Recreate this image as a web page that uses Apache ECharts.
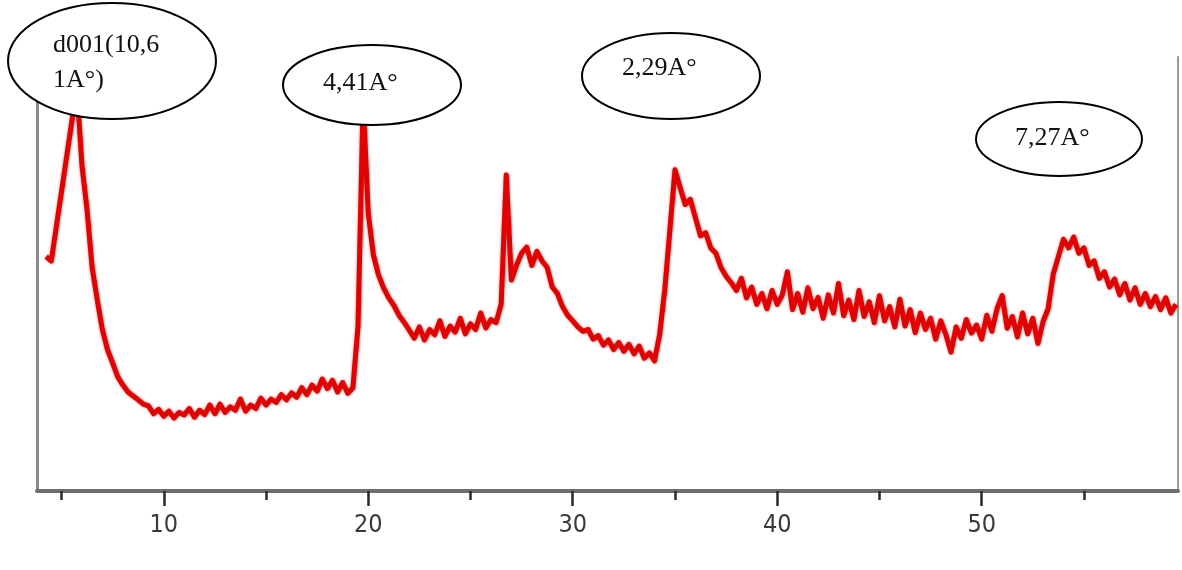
<!DOCTYPE html>
<html>
<head>
<meta charset="utf-8">
<title>XRD pattern</title>
<script src="https://cdn.jsdelivr.net/npm/echarts@6/dist/echarts.min.js"></script>
<style>
  html, body { margin: 0; padding: 0; background: #ffffff; }
  #chart { width: 1182px; height: 570px; }
</style>
</head>
<body>
<div id="chart"></div>
<script>
// Diffractogram: 2θ sampling grid (degrees) and measured intensity (counts)
const angleStart = 4.25;
const angleStep = 0.25;
const intensity = [
  540, 530, 610, 690,   // 4.25 – 5.0
  770, 850, 930, 750,   // 5.25 – 6.0
  647, 514, 440, 371,   // 6.25 – 7.0
  325, 295, 263, 244,   // 7.25 – 8.0
  228, 219, 210, 200,   // 8.25 – 9.0
  196, 178, 188, 172,   // 9.25 – 10.0
  184, 168, 181, 175,   // 10.25 – 11.0
  190, 170, 186, 176,   // 11.25 – 12.0
  198, 178, 200, 181,   // 12.25 – 13.0
  194, 186, 212, 184,   // 13.25 – 14.0
  198, 190, 214, 198,   // 14.25 – 15.0
  212, 204, 222, 210,   // 15.25 – 16.0
  226, 216, 238, 222,   // 16.25 – 17.0
  244, 230, 258, 236,   // 17.25 – 18.0
  255, 228, 250, 225,   // 18.25 – 19.0
  238, 380, 900, 640,   // 19.25 – 20.0
  544, 498, 468, 445,   // 20.25 – 21.0
  428, 405, 389, 371,   // 21.25 – 22.0
  352, 378, 348, 372,   // 22.25 – 23.0
  360, 392, 356, 380,   // 23.25 – 24.0
  366, 398, 362, 385,   // 24.25 – 25.0
  372, 410, 376, 395,   // 25.25 – 26.0
  388, 430, 728, 486,   // 26.25 – 27.0
  520, 548, 562, 520,   // 27.25 – 28.0
  552, 530, 515, 470,   // 28.25 – 29.0
  455, 425, 405, 392,   // 29.25 – 30.0
  378, 368, 372, 350,   // 30.25 – 31.0
  358, 336, 348, 326,   // 31.25 – 32.0
  342, 322, 338, 316,   // 32.25 – 33.0
  334, 306, 318, 300,   // 33.25 – 34.0
  360, 463, 600, 740,   // 34.25 – 35.0
  700, 660, 672, 630,   // 35.25 – 36.0
  588, 595, 560, 548,   // 36.25 – 37.0
  515, 495, 480, 462,   // 37.25 – 38.0
  490, 445, 470, 430,   // 38.25 – 39.0
  455, 420, 462, 430,   // 39.25 – 40.0
  452, 505, 418, 455,   // 40.25 – 41.0
  412, 468, 420, 446,   // 41.25 – 42.0
  398, 452, 410, 478,   // 42.25 – 43.0
  404, 440, 395, 462,   // 43.25 – 44.0
  402, 436, 388, 450,   // 44.25 – 45.0
  392, 425, 378, 442,   // 45.25 – 46.0
  380, 418, 365, 410,   // 46.25 – 47.0
  372, 398, 350, 392,   // 47.25 – 48.0
  360, 320, 378, 352,   // 48.25 – 49.0
  395, 364, 382, 350,   // 49.25 – 50.0
  405, 368, 420, 450,   // 50.25 – 51.0
  375, 402, 355, 410,   // 51.25 – 52.0
  362, 398, 340, 390,   // 52.25 – 53.0
  420, 500, 540, 580,   // 53.25 – 54.0
  560, 585, 548, 560,   // 54.25 – 55.0
  520, 530, 490, 505,   // 55.25 – 56.0
  470, 488, 452, 478,   // 56.25 – 57.0
  440, 468, 430, 455,   // 57.25 – 58.0
  425, 448, 418, 445,   // 58.25 – 59.0
  410, 430              // 59.25 – 59.5
];

// Axis range and tick positions (degrees 2θ)
const angleMin = 3.8;
const angleMax = 59.6;
const majorTicks = [10, 20, 30, 40, 50];
const minorTicks = [5, 15, 25, 35, 45, 55];
const intensityMax = 1000;

// Peak annotations (d-spacings)
const peakNotes = ['d001(10,6', '1A°)', '4,41A°', '2,29A°', '7,27A°'];

const pattern = intensity.map((v, i) => [angleStart + i * angleStep, v]);

const chart = echarts.init(document.getElementById('chart'), null, { renderer: 'canvas' });

const serif = '"Liberation Serif", "Times New Roman", serif';
const noteText = (text, x, y) => ({
  type: 'text',
  x: x,
  y: y,
  z: 101,
  style: {
    text: text,
    font: '26px ' + serif,
    fill: '#111',
    textVerticalAlign: 'middle',
    textAlign: 'left'
  }
});
const noteEllipse = (cx, cy, rx, ry) => ({
  type: 'ellipse',
  z: 100,
  shape: { cx: cx, cy: cy, rx: rx, ry: ry },
  style: { fill: '#ffffff', stroke: '#000000', lineWidth: 2 }
});

chart.setOption({
  animation: false,
  backgroundColor: '#ffffff',
  grid: { left: 37, right: 4, top: 57, bottom: 79, containLabel: false },
  xAxis: [
    {
      type: 'value',
      min: angleMin,
      max: angleMax,
      position: 'bottom',
      axisLine: { show: true, onZero: false, lineStyle: { color: '#6f6f6f', width: 4 } },
      axisTick: {
        show: true,
        customValues: majorTicks,
        length: 15,
        lineStyle: { color: '#2a2a2a', width: 2.5 }
      },
      axisLabel: {
        show: true,
        customValues: majorTicks,
        margin: 22,
        fontSize: 25,
        color: '#3a3a3a',
        fontFamily: '"Liberation Sans Narrow", "DejaVu Sans Condensed", "Liberation Sans", sans-serif'
      },
      splitLine: { show: false }
    },
    {
      type: 'value',
      min: angleMin,
      max: angleMax,
      position: 'bottom',
      axisLine: { show: false, onZero: false },
      axisTick: {
        show: true,
        customValues: minorTicks,
        length: 9,
        lineStyle: { color: '#2a2a2a', width: 2.5 }
      },
      axisLabel: { show: false },
      splitLine: { show: false }
    }
  ],
  yAxis: [
    {
      type: 'value',
      min: 0,
      max: intensityMax,
      position: 'left',
      axisLine: { show: true, onZero: false, lineStyle: { color: '#8a8a8a', width: 3 } },
      axisTick: { show: false },
      axisLabel: { show: false },
      splitLine: { show: false }
    },
    {
      type: 'value',
      min: 0,
      max: intensityMax,
      position: 'right',
      axisLine: { show: true, onZero: false, lineStyle: { color: '#9a9a9a', width: 2 } },
      axisTick: { show: false },
      axisLabel: { show: false },
      splitLine: { show: false }
    }
  ],
  series: [
    {
      type: 'line',
      xAxisIndex: 0,
      yAxisIndex: 0,
      data: pattern,
      showSymbol: false,
      smooth: false,
      lineStyle: {
        color: '#e20000',
        width: 5,
        join: 'round',
        shadowColor: 'rgba(140,0,0,0.55)',
        shadowBlur: 3
      },
      z: 3
    }
  ],
  graphic: [
    noteEllipse(112, 61, 104, 58),
    noteText(peakNotes[0], 53, 45),
    noteText(peakNotes[1], 53, 80),
    noteEllipse(372, 85, 89, 40),
    noteText(peakNotes[2], 323, 83),
    noteEllipse(671, 76, 89, 43),
    noteText(peakNotes[3], 622, 68),
    noteEllipse(1059, 139, 83, 37),
    noteText(peakNotes[4], 1015, 138)
  ]
});
</script>
</body>
</html>
